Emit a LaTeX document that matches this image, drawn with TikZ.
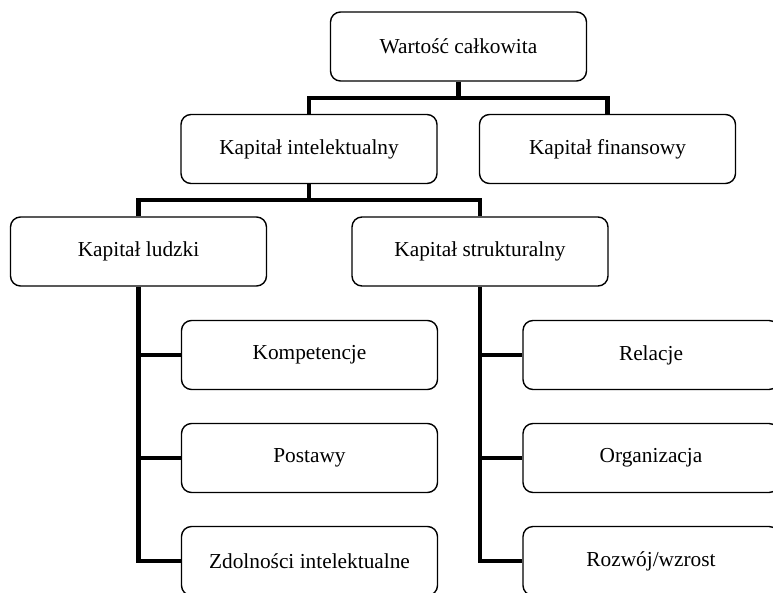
\documentclass[tikz,border=0pt]{standalone}
\usepackage{fontspec}
\setmainfont{Liberation Serif}
\begin{document}
\begin{tikzpicture}[x=0.75pt,y=-0.75pt,
  box/.style={draw=black,line width=1.05pt,rounded corners=7.5pt,fill=white,
    minimum width=192pt,minimum height=51.75pt,inner sep=0pt,
    font=\fontsize{16}{19}\selectfont},
  conn/.style={draw=black,line width=3.6pt,line join=miter}]
\clip (0,0) rectangle (773,592);
\fill[white] (0,0) rectangle (773,592);

% boxes
\node[box] (top) at (458.5,46.5) {Wartość całkowita};
\node[box] (ki) at (309,149) {Kapitał intelektualny};
\node[box] (kf) at (607.5,149) {Kapitał finansowy};
\node[box] (kl) at (138.5,251.5) {Kapitał ludzki};
\node[box] (ks) at (480,251.5) {Kapitał strukturalny};
\node[box] (l1) at (309.5,355) {Kompetencje};
\node[box] (l2) at (309.5,458) {Postawy};
\node[box] (l3) at (309.5,561) {Zdolności intelektualne};
\node[box] (r1) at (651,355) {Relacje};
\node[box] (r2) at (651,458) {Organizacja};
\node[box] (r3) at (651,561) {Rozwój/wzrost};

% junction points
\coordinate (j1) at (458.5,98);
\coordinate (j2) at (309,200);
\coordinate (jl) at (138.5,561);
\coordinate (jr) at (480,561);

% connectors
\begin{scope}[on background layer/.try]
\draw[conn] (top.south) -- (j1);
\draw[conn] (ki.north) |- (j1) -| (kf.north);
\draw[conn] (ki.south) -- (j2);
\draw[conn] (kl.north) |- (j2) -| (ks.north);
\draw[conn] (kl.south) -- (jl) -- (l3.west);
\draw[conn] (kl.south |- l1.west) -- (l1.west);
\draw[conn] (kl.south |- l2.west) -- (l2.west);
\draw[conn] (ks.south) -- (jr) -- (r3.west);
\draw[conn] (ks.south |- r1.west) -- (r1.west);
\draw[conn] (ks.south |- r2.west) -- (r2.west);
\end{scope}
\end{tikzpicture}
\end{document}
